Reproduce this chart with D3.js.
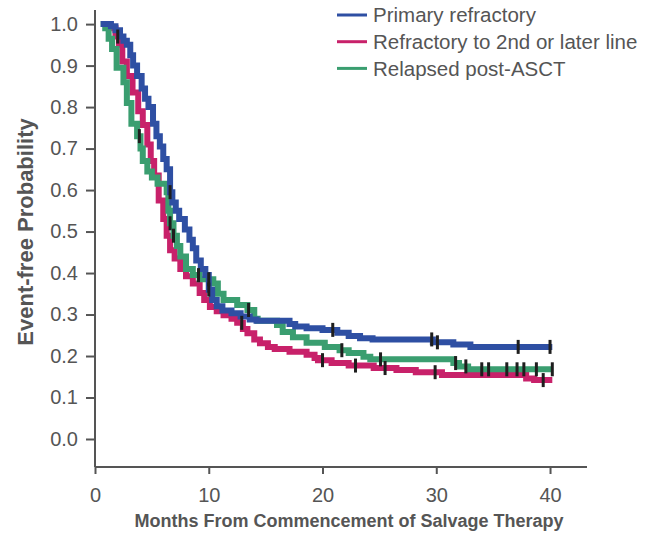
<!DOCTYPE html>
<html>
<head>
<meta charset="utf-8">
<script src="https://cdn.jsdelivr.net/npm/d3@7"></script>
<style>
  html, body { margin: 0; padding: 0; background: #fff; }
  svg { display: block; font-family: "Liberation Sans", Arial, sans-serif; }
</style>
</head>
<body>
<svg id="chart" width="652" height="533"></svg>
<script>
// Kaplan–Meier event-free probability by salvage group: [months, probability]
const primaryRefractory = [
  [0.5, 1.0], [1.4, 0.995], [1.8, 0.985], [2.2, 0.97], [2.5, 0.96], [2.8, 0.95],
  [3.1, 0.925], [3.35, 0.90], [3.7, 0.875], [4.1, 0.845], [4.4, 0.82], [4.7, 0.80],
  [5.1, 0.76], [5.4, 0.73], [5.7, 0.705], [6.0, 0.675], [6.3, 0.65], [6.6, 0.595],
  [6.8, 0.57], [7.1, 0.55], [7.4, 0.53], [7.9, 0.505], [8.3, 0.48], [8.6, 0.46],
  [8.9, 0.43], [9.3, 0.41], [9.7, 0.395], [10.0, 0.36], [10.3, 0.335], [10.7, 0.32],
  [11.2, 0.31], [12.0, 0.303], [12.8, 0.295], [13.6, 0.288], [14.2, 0.285],
  [17.1, 0.277], [17.6, 0.271], [18.6, 0.267], [20.0, 0.263], [21.3, 0.256],
  [22.3, 0.248], [23.3, 0.243], [24.4, 0.240], [29.7, 0.233], [31.5, 0.228],
  [33.0, 0.222], [40.2, 0.222]
];
const refractory2ndLine = [
  [0.8, 1.0], [1.3, 0.99], [1.8, 0.97], [2.1, 0.95], [2.4, 0.91], [2.8, 0.875],
  [3.3, 0.835], [3.8, 0.79], [4.2, 0.757], [4.6, 0.71], [4.9, 0.67], [5.2, 0.635],
  [5.6, 0.575], [6.0, 0.53], [6.3, 0.49], [6.6, 0.455], [7.0, 0.435], [7.5, 0.41],
  [8.0, 0.392], [8.6, 0.375], [9.2, 0.352], [9.6, 0.335], [10.1, 0.318], [10.7, 0.308],
  [11.3, 0.298], [12.0, 0.29], [12.5, 0.28], [13.0, 0.265], [13.4, 0.255], [14.0, 0.24],
  [14.5, 0.231], [15.2, 0.222], [15.8, 0.217], [17.1, 0.21], [18.6, 0.203],
  [19.3, 0.195], [19.6, 0.19], [20.8, 0.183], [22.3, 0.177], [24.5, 0.171],
  [26.5, 0.166], [28.2, 0.161], [30.5, 0.154], [37.9, 0.146], [38.6, 0.142], [40.2, 0.142]
];
const relapsedPostASCT = [
  [0.5, 1.0], [0.9, 0.99], [1.2, 0.965], [1.5, 0.94], [1.9, 0.895], [2.5, 0.86],
  [2.8, 0.81], [3.2, 0.76], [3.7, 0.73], [4.0, 0.70], [4.2, 0.67], [4.6, 0.645],
  [5.0, 0.63], [5.5, 0.615], [6.3, 0.595], [6.45, 0.55], [6.6, 0.52], [6.9, 0.49],
  [7.2, 0.465], [7.5, 0.44], [8.0, 0.41], [8.6, 0.395], [9.2, 0.385], [10.4, 0.375],
  [10.8, 0.35], [11.3, 0.335], [12.5, 0.323], [13.4, 0.311], [14.0, 0.29], [14.3, 0.285],
  [16.0, 0.275], [16.5, 0.258], [17.4, 0.245], [18.6, 0.232], [20.2, 0.222],
  [21.5, 0.214], [22.3, 0.207], [23.6, 0.198], [24.2, 0.192], [31.5, 0.183],
  [32.0, 0.175], [32.8, 0.168], [40.2, 0.168]
];

// Censoring times (months) per group
const censorPrimary = [6.6, 10.0, 20.9, 29.6, 30.1, 37.2, 40.0];
const censorRefractory2nd = [2.0, 12.9, 20.0, 22.9, 25.5, 29.9, 39.4];
const censorRelapsed = [3.9, 6.6, 6.9, 9.1, 10.0, 13.5, 21.7, 25.1, 31.7, 32.6, 34.0,
  34.6, 36.2, 37.1, 37.7, 38.8, 40.2];

const seriesNames = ["Primary refractory", "Refractory to 2nd or later line", "Relapsed post-ASCT"];
const seriesColors = ["#2e4fa3", "#c8216a", "#3a9e70"];

const xTicks = [0, 10, 20, 30, 40];
const yTicks = [0, 0.1, 0.2, 0.3, 0.4, 0.5, 0.6, 0.7, 0.8, 0.9, 1.0];

const xTitle = "Months From Commencement of Salvage Therapy";
const yTitle = "Event-free Probability";

const svg = d3.select("#chart");
const axisColor = "#555";

const x = d3.scaleLinear().domain([0, 43.25]).range([95, 587]);
const y = d3.scaleLinear().domain([-0.0675, 1.034]).range([467, 10]);

// Axes
const xAxis = svg.append("g").attr("transform", "translate(0,467)")
  .call(d3.axisBottom(x).tickValues(xTicks).tickSize(7).tickPadding(14).tickFormat(d3.format("d")));
const yAxis = svg.append("g").attr("transform", "translate(95,0)")
  .call(d3.axisLeft(y).tickValues(yTicks).tickSize(9).tickPadding(8).tickFormat(d3.format(".1f")));

[xAxis, yAxis].forEach(g => {
  g.select(".domain").attr("stroke", axisColor).attr("stroke-width", 2)
    .attr("d", g === xAxis ? "M95,0H587" : "M0,10V467");
  g.selectAll(".tick line").attr("stroke", axisColor).attr("stroke-width", 2);
  g.selectAll(".tick text").attr("fill", axisColor).attr("font-size", 20)
    .attr("font-family", "Liberation Sans, Arial, sans-serif");
});

// Axis titles
svg.append("text")
  .attr("x", 349).attr("y", 527)
  .attr("text-anchor", "middle")
  .attr("font-size", 18).attr("font-weight", "bold").attr("fill", axisColor)
  .text(xTitle);
svg.append("text")
  .attr("transform", "translate(33,232) rotate(-90)")
  .attr("text-anchor", "middle")
  .attr("font-size", 22).attr("font-weight", "bold").attr("fill", axisColor)
  .text(yTitle);

// Step curves
const stepLine = d3.line().x(d => x(d[0])).y(d => y(d[1])).curve(d3.curveStepAfter);
const curves = [primaryRefractory, refractory2ndLine, relapsedPostASCT];
const censors = [censorPrimary, censorRefractory2nd, censorRelapsed];

function survivalAt(curve, t) {
  let v = curve[0][1];
  for (const [tt, p] of curve) { if (tt <= t) v = p; else break; }
  return v;
}

const drawOrder = [1, 2, 0];
drawOrder.forEach(i => {
  svg.append("path")
    .datum(curves[i])
    .attr("fill", "none")
    .attr("stroke", seriesColors[i])
    .attr("stroke-width", 6)
    .attr("stroke-linejoin", "miter")
    .attr("d", stepLine);
});

// Censor ticks
censors.forEach((times, i) => {
  svg.append("g").selectAll("rect")
    .data(times)
    .join("rect")
    .attr("x", t => x(t) - 1.5)
    .attr("y", t => y(survivalAt(curves[i], t)) - 7)
    .attr("width", 3)
    .attr("height", 14)
    .attr("fill", "#1e1e1e");
});

// Legend
const legend = svg.append("g");
seriesNames.forEach((name, i) => {
  const ly = 15 + i * 26.7;
  legend.append("line")
    .attr("x1", 337).attr("x2", 367).attr("y1", ly).attr("y2", ly)
    .attr("stroke", seriesColors[i]).attr("stroke-width", 3);
  legend.append("text")
    .attr("x", 373).attr("y", ly).attr("dy", "0.35em")
    .attr("font-size", 20.5).attr("fill", axisColor)
    .text(name);
});
</script>
</body>
</html>
